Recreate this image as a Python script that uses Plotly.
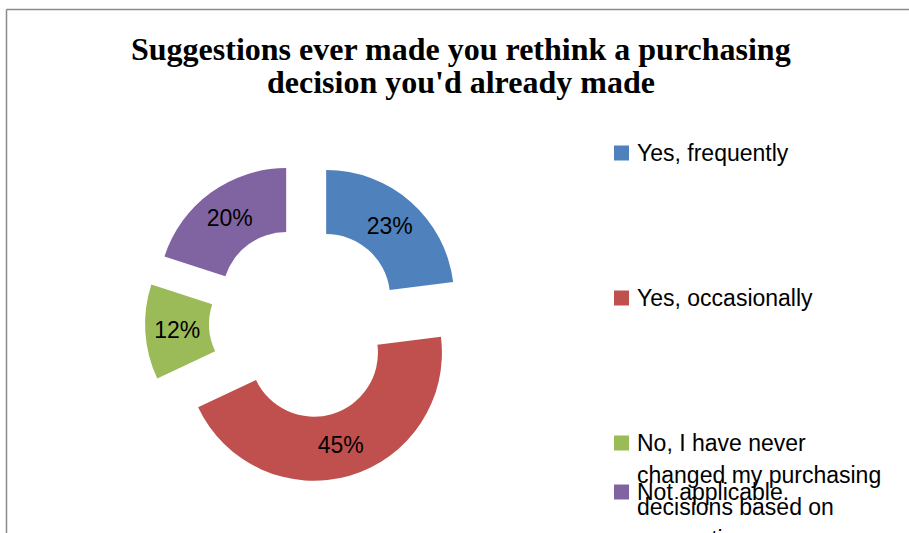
import textwrap
import plotly.graph_objects as go

W, H = 909, 533

title_lines = ["Suggestions ever made you rethink a purchasing",
               "decision you'd already made"]
labels = ["Yes, frequently", "Yes, occasionally",
          "No, I have never changed my purchasing decisions based on suggestions",
          "Not applicable."]
values = [23, 45, 12, 20]
colors = ["#4F81BD", "#C0504D", "#9BBB59", "#8064A2"]


def px(x):
    return x / W


def py(y):
    return 1 - y / H


fig = go.Figure()
fig.add_trace(go.Pie(
    labels=labels, values=values, sort=False, direction="clockwise",
    rotation=0, hole=0.5, pull=[0.25] * len(values),
    marker=dict(colors=colors, line=dict(width=0)),
    textinfo="percent", textposition="inside",
    insidetextorientation="horizontal",
    texttemplate="%{percent:.0%}",
    insidetextfont=dict(family="Liberation Sans", size=23, color="black"),
    domain=dict(x=[px(145), px(465)], y=[py(482), py(162)]),
    showlegend=False, hoverinfo="label+percent",
))

ann = []
# title
for i, (line, yc) in enumerate(zip(title_lines, [49, 82])):
    ann.append(dict(text="<b>%s</b>" % line, x=px(461), y=py(yc), xref="paper", yref="paper",
                    xanchor="center", yanchor="middle", showarrow=False,
                    font=dict(family="Liberation Serif", size=32, color="black")))

# manual legend
leg_y = [153, 298, 443, 492]
shapes = []
for lab, col, yc in zip(labels, colors, leg_y):
    shapes.append(dict(type="rect", xref="paper", yref="paper",
                       x0=px(614), x1=px(629), y0=py(yc + 7.5), y1=py(yc - 7.5),
                       fillcolor=col, line=dict(width=0)))
    lines = textwrap.wrap(lab, 22)
    for j, ln in enumerate(lines):
        ann.append(dict(text=ln, x=px(635), y=py(yc + j * 32), xref="paper", yref="paper",
                        xanchor="left", yanchor="middle", showarrow=False,
                        font=dict(family="Liberation Sans", size=23, color="black")))

# chart border (left & top, rest cut off)
shapes.append(dict(type="line", xref="paper", yref="paper", x0=px(6.5), x1=px(6.5),
                   y0=py(9.5), y1=py(540), line=dict(color="#8a8a8a", width=1.5)))
shapes.append(dict(type="line", xref="paper", yref="paper", x0=px(6.5), x1=px(915),
                   y0=py(9.5), y1=py(9.5), line=dict(color="#8a8a8a", width=1.5)))

fig.update_layout(
    width=W, height=H, margin=dict(l=0, r=0, t=0, b=0),
    paper_bgcolor="white", plot_bgcolor="white",
    annotations=ann, shapes=shapes,
)
fig.write_html("out.html")
